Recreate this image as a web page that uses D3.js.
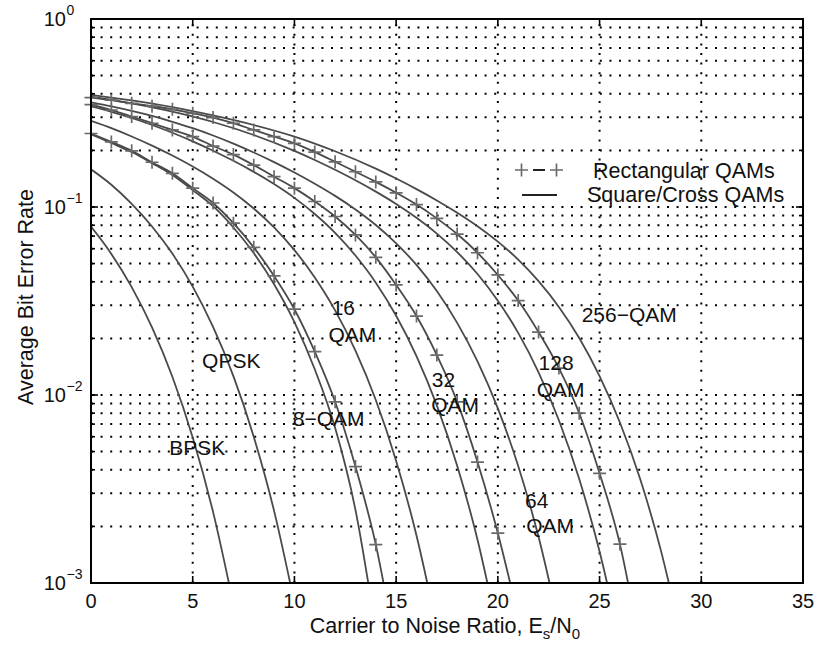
<!DOCTYPE html>
<html><head><meta charset="utf-8">
<script src="https://cdnjs.cloudflare.com/ajax/libs/d3/7.8.5/d3.min.js"></script>
<style>
body{margin:0;background:#fff}
svg{display:block}
text{font-family:"Liberation Sans",Arial,Helvetica,sans-serif;fill:#111}
</style>
</head><body>
<svg id="c" width="815" height="649"></svg>
<script>
// ---------- data (Es/N0 in dB, average bit error rate) ----------
const xTicks = [0,5,10,15,20,25,30,35];
const yDecades = [-3,-2,-1,0];
const yTickSup = ["\u22123","\u22122","\u22121","0"];

const bpskX = [0,1,2,3,4,5,6,7];
const bpskY = [0.0786,0.0563,0.0375,0.0229,0.0125,0.00595,0.00239,0.00077];

const qpskX = [0,1,2,3,4,5,6,7,8,9,10];
const qpskY = [0.1587,0.1314,0.104,0.0788,0.0565,0.0377,0.0230,0.0126,0.0060,0.00242,0.00078];

const qam8X = [0,1,2,3,4,5,6,7,8,9,10,11,12,13,14];
const qam8Y = [0.244,0.219,0.196,0.171,0.148,0.123,0.101,0.0778,0.0569,0.0388,0.0244,0.0137,0.0067,0.00245,0.00056];

const qam16X = [0,1,2,3,4,5,6,7,8,9,10,11,12,13,14,15,16,17];
const qam16Y = [0.287,0.2625,0.2372,0.2121,0.1878,0.1643,0.1415,0.1195,0.0982,0.0779,0.0590,0.0422,0.0282,0.0172,0.0094,0.00446,0.00179,0.00058];

const qam32X = [0,1,2,3,4,5,6,7,8,9,10,11,12,13,14,15,16,17,18,19,20];
const qam32Y = [0.343,0.321,0.2975,0.2731,0.2483,0.2235,0.1993,0.1761,0.1538,0.1324,0.1118,0.0918,0.0729,0.0552,0.0396,0.0264,0.0161,0.0088,0.0042,0.0017,0.00055];

const qam64X = [0,1,2,3,4,5,6,7,8,9,10,11,12,13,14,15,16,17,18,19,20,21,22,23];
const qam64Y = [0.360,0.3428,0.3245,0.3050,0.284,0.2625,0.240,0.2174,0.195,0.1733,0.1526,0.1330,0.1146,0.0970,0.0802,0.0641,0.0492,0.0357,0.0242,0.0151,0.00849,0.00419,0.00176,0.00060];

const qam128X = [0,2,4,6,8,10,11,12,13,14,15,16,17,18,19,20,21,22,23,24,25,26];
const qam128Y = [0.3865,0.3556,0.3213,0.2832,0.2416,0.1988,0.1779,0.1577,0.1387,0.1207,0.1038,0.0876,0.0722,0.0576,0.0440,0.0317,0.0214,0.01321,0.00734,0.00357,0.00147,0.000492];

const qam256X = [0,2,4,6,8,10,12,14,15,16,17,18,19,20,21,22,23,24,25,26,27,28,29];
const qam256Y = [0.395,0.369,0.340,0.307,0.273,0.237,0.198,0.160,0.1417,0.1245,0.1084,0.0933,0.0791,0.0654,0.0525,0.0403,0.0294,0.0201,0.0126,0.00714,0.00356,0.00151,0.000525];

// rectangular QAMs (drawn with + markers)
const rect8X = [0,1,2,3,4,5,6,7,8,9,10,11,12,13,14,15];
const rect8Y = [0.246,0.222,0.199,0.173,0.151,0.126,0.105,0.082,0.061,0.043,0.0286,0.017,0.0092,0.00416,0.0016,0.00043];

const rect32X = [0,1,2,3,4,5,6,7,8,9,10,11,12,13,14,15,16,17,18,19,20,21];
const rect32Y = [0.350,0.328,0.303,0.279,0.257,0.237,0.211,0.190,0.167,0.145,0.126,0.107,0.089,0.071,0.054,0.0385,0.0263,0.0163,0.0092,0.0044,0.00184,0.00066];

const rect128X = [0,1,2,3,4,5,6,7,8,9,10,11,12,13,14,15,16,17,18,19,20,21,22,23,24,25,26,27];
const rect128Y = [0.382,0.370,0.356,0.344,0.331,0.315,0.299,0.279,0.257,0.237,0.218,0.196,0.174,0.154,0.136,0.119,0.103,0.087,0.0718,0.0571,0.0435,0.0318,0.0216,0.0139,0.0080,0.00383,0.00161,0.00045];

// curve annotations: [text lines, x (dB), baseline BER of first line, BER of second line]
const annoText = ["QPSK","BPSK","16","QAM","8\u2212QAM","32","QAM","128","QAM","256\u2212QAM","64","QAM"];
const annoX    = [5.46, 3.85, 11.83, 11.67, 9.92, 16.75, 16.72, 22.0, 21.91, 24.12, 21.34, 21.39];
const annoY    = [0.0139,0.0048,0.0267,0.0192,0.00684,0.01107,0.00815,0.0136,0.0098,0.0245,0.0025,0.00184];

const legendLabels = ["Rectangular QAMs","Square/Cross QAMs"];

// ---------- drawing ----------
const svg = d3.select("#c");
const L = 91, R = 803, T = 19, B = 583;
const x = d3.scaleLinear().domain([0,35]).range([L,R]);
const y = d3.scaleLog().domain([1e-3,1]).range([B,T]);

svg.append("rect").attr("width",815).attr("height",649).attr("fill","#fff");

// grid
const gridVals = [];
yDecades.slice(0,3).forEach(d => { for (let m=1;m<=9;m++){ const v=m*Math.pow(10,d); if (v>1e-3 && v<1) gridVals.push(v);} });
const grid = svg.append("g").attr("stroke","#000").attr("stroke-width",2).attr("stroke-dasharray","2,7.6");
grid.selectAll("line.h").data(gridVals).join("line").attr("class","h")
  .attr("x1",L).attr("x2",R).attr("y1",d=>y(d)).attr("y2",d=>y(d));
grid.selectAll("line.v").data(xTicks.filter(t=>t>0&&t<35)).join("line").attr("class","v")
  .attr("y1",B).attr("y2",T).attr("x1",d=>x(d)).attr("x2",d=>x(d));

// curves
svg.append("clipPath").attr("id","clip").append("rect")
  .attr("x",L).attr("y",T).attr("width",R-L).attr("height",B-T);
const line = d3.line().x(d=>x(d[0])).y(d=>y(d[1])).curve(d3.curveMonotoneX);
const zip = (xs,ys)=>xs.map((v,i)=>[v,ys[i]]);
const solid = [[bpskX,bpskY],[qpskX,qpskY],[qam8X,qam8Y],[qam16X,qam16Y],[qam32X,qam32Y],[qam64X,qam64Y],[qam128X,qam128Y],[qam256X,qam256Y]];
const rects = [[rect8X,rect8Y],[rect32X,rect32Y],[rect128X,rect128Y]];
const cg = svg.append("g").attr("clip-path","url(#clip)").attr("fill","none")
  .attr("stroke","#4a4a4a").attr("stroke-width",1.8);
solid.concat(rects).forEach(s => cg.append("path").attr("d", line(zip(s[0],s[1]))));

// + markers
const mk = svg.append("g").attr("stroke","#6a6a6a").attr("stroke-width",1.7);
const arm = 6.5;
rects.forEach(s => {
  const pts = zip(s[0],s[1]).filter(p=>p[1]>=1e-3);
  mk.selectAll(null).data(pts).join("path")
    .attr("d", p => `M${x(p[0])-arm},${y(p[1])}H${x(p[0])+arm}M${x(p[0])},${y(p[1])-arm}V${y(p[1])+arm}`);
});

// axes frame and ticks
const ax = svg.append("g").attr("stroke","#000").attr("fill","none");
ax.append("rect").attr("x",L).attr("y",T).attr("width",R-L).attr("height",B-T).attr("stroke-width",2);
xTicks.forEach(t=>{
  ax.append("line").attr("x1",x(t)).attr("x2",x(t)).attr("y1",B).attr("y2",B-7).attr("stroke-width",1.6);
  ax.append("line").attr("x1",x(t)).attr("x2",x(t)).attr("y1",T).attr("y2",T+7).attr("stroke-width",1.6);
});
yDecades.forEach(d=>{
  const v=Math.pow(10,d);
  ax.append("line").attr("x1",L).attr("x2",L+7).attr("y1",y(v)).attr("y2",y(v)).attr("stroke-width",1.6);
  ax.append("line").attr("x1",R).attr("x2",R-7).attr("y1",y(v)).attr("y2",y(v)).attr("stroke-width",1.6);
});
gridVals.forEach(v=>{
  ax.append("line").attr("x1",L).attr("x2",L+4).attr("y1",y(v)).attr("y2",y(v)).attr("stroke-width",1.6);
  ax.append("line").attr("x1",R).attr("x2",R-4).attr("y1",y(v)).attr("y2",y(v)).attr("stroke-width",1.6);
});

// tick labels
svg.append("g").selectAll("text").data(xTicks).join("text")
  .attr("x",d=>x(d)).attr("y",B+25).attr("text-anchor","middle")
  .attr("font-size",20).text(d=>d);
const yl = svg.append("g");
yDecades.forEach((d,i)=>{
  const v=Math.pow(10,d);
  yl.append("text").attr("x",66).attr("y",y(v)+7).attr("text-anchor","end").attr("font-size",20).text("10");
  yl.append("text").attr("x",66.5).attr("y",y(v)-4).attr("text-anchor","start").attr("font-size",14).text(yTickSup[i]);
});

// axis titles
const xt = svg.append("text").attr("x",445).attr("y",633).attr("text-anchor","middle").attr("font-size",21.5);
xt.append("tspan").text("Carrier to Noise Ratio, E");
xt.append("tspan").attr("font-size",15).attr("dy",6).text("s");
xt.append("tspan").attr("dy",-6).text("/N");
xt.append("tspan").attr("font-size",15).attr("dy",6).text("0");
svg.append("text").attr("transform","translate(33,297) rotate(-90)")
  .attr("text-anchor","middle").attr("font-size",21.5).text("Average Bit Error Rate");

// annotations
svg.append("g").selectAll("text").data(annoText).join("text")
  .attr("x",(d,i)=>x(annoX[i])).attr("y",(d,i)=>y(annoY[i]))
  .attr("font-size",21).text(d=>d);

// legend
const lg = svg.append("g");
lg.append("path").attr("stroke","#6a6a6a").attr("stroke-width",1.7)
  .attr("d",`M${515},170H${528}M${521.5},163.5V176.5M${550},170H${563}M${556.5},163.5V176.5`);
lg.append("line").attr("x1",533).attr("x2",545).attr("y1",170).attr("y2",170).attr("stroke","#222").attr("stroke-width",2);
lg.append("line").attr("x1",522).attr("x2",557).attr("y1",195).attr("y2",195).attr("stroke","#222").attr("stroke-width",2);
lg.selectAll("text").data(legendLabels).join("text")
  .attr("x",(d,i)=>i===0?593:587).attr("y",(d,i)=>i===0?178:202).attr("font-size",21.5).text(d=>d);
</script>
</body></html>
